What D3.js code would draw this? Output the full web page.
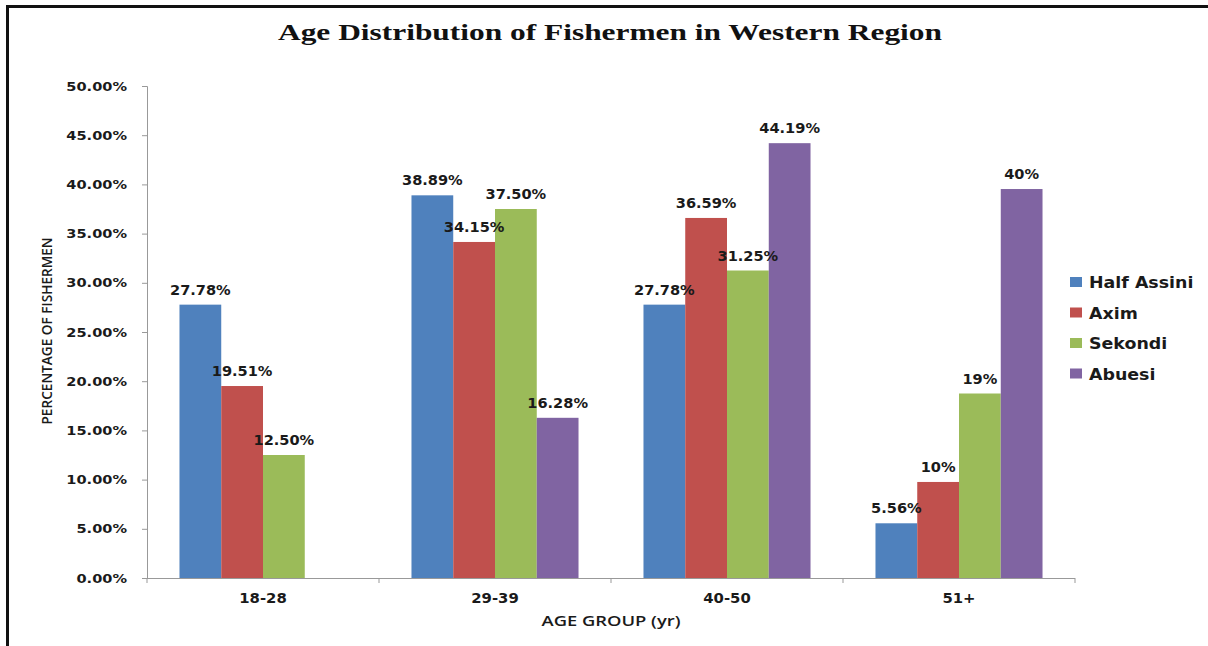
<!DOCTYPE html>
<html><head><meta charset="utf-8">
<script src="https://cdn.jsdelivr.net/npm/d3@7"></script>
<style>body{margin:0;background:#fff}svg{display:block}</style>
</head><body><svg id="c" width="1208" height="646"></svg>
<script>
const categories = ["18-28", "29-39", "40-50", "51+"];
const seriesNames = ["Half Assini", "Axim", "Sekondi", "Abuesi"];
const halfAssini = [27.78, 38.89, 27.78, 5.56];
const axim = [19.51, 34.15, 36.59, 9.76];
const sekondi = [12.50, 37.50, 31.25, 18.75];
const abuesi = [null, 16.28, 44.19, 39.53];
const labelsHalfAssini = ["27.78%", "38.89%", "27.78%", "5.56%"];
const labelsAxim = ["19.51%", "34.15%", "36.59%", "10%"];
const labelsSekondi = ["12.50%", "37.50%", "31.25%", "19%"];
const labelsAbuesi = [null, "16.28%", "44.19%", "40%"];
const yTicks = [0, 5, 10, 15, 20, 25, 30, 35, 40, 45, 50];
const colors = ["#4F81BD", "#C0504D", "#9BBB59", "#8064A2"];

const series = [halfAssini, axim, sekondi, abuesi];
const labels = [labelsHalfAssini, labelsAxim, labelsSekondi, labelsAbuesi];

const svg = d3.select("#c");
const font = "'DejaVu Sans', sans-serif";
const txt = "#1a1a1a";

// frame
svg.append("line").attr("x1", 7.5).attr("x2", 1208).attr("y1", 6.5).attr("y2", 6.5).attr("stroke", "#111").attr("stroke-width", 3);
svg.append("line").attr("x1", 7.5).attr("x2", 7.5).attr("y1", 5).attr("y2", 646).attr("stroke", "#111").attr("stroke-width", 3);

const L = 147, R = 1075, T = 86, B = 578;
const x0 = d3.scaleBand().domain(categories).range([L, R]).paddingInner(0.28).paddingOuter(0.14);
const x1 = d3.scaleBand().domain(seriesNames).range([0, x0.bandwidth()]);
const y = d3.scaleLinear().domain([0, 50]).range([B, T]);

function stretch(sel, k) {
  sel.each(function () {
    const t = d3.select(this);
    const w = this.getComputedTextLength();
    t.attr("textLength", w * k).attr("lengthAdjust", "spacingAndGlyphs");
  });
}

// bars
series.forEach((vals, si) => {
  const g = svg.append("g");
  categories.forEach((c, ci) => {
    const v = vals[ci];
    if (v == null) return;
    g.append("rect")
      .attr("x", x0(c) + x1(seriesNames[si]))
      .attr("y", y(v))
      .attr("width", x1.bandwidth())
      .attr("height", y(0) - y(v))
      .attr("fill", colors[si]);
  });
});

// y axis
const ya = svg.append("g").attr("transform", `translate(${L},0)`)
  .call(d3.axisLeft(y).tickValues(yTicks).tickSize(5).tickPadding(15).tickFormat(d => d.toFixed(2) + "%"));
ya.select(".domain").attr("stroke", "#999");
ya.selectAll(".tick line").attr("stroke", "#999");
ya.selectAll(".tick text").attr("font-family", font).attr("font-weight", "bold").attr("font-size", 13).attr("fill", txt);
stretch(ya.selectAll(".tick text"), 1.12);

// x axis
const xa = svg.append("g").attr("transform", `translate(0,${B})`);
xa.append("line").attr("x1", L).attr("x2", R).attr("y1", 0.5).attr("y2", 0.5).attr("stroke", "#999");
const bounds = categories.map(c => x0(c) - x0.step() * x0.paddingInner() / 2);
bounds.push(R);
bounds[0] = L;
bounds.forEach(b => xa.append("line").attr("x1", b).attr("x2", b).attr("y1", 0).attr("y2", 5).attr("stroke", "#999"));
const catT = xa.selectAll("text.cat").data(categories).join("text").attr("class", "cat")
  .attr("x", d => x0(d) + x0.bandwidth() / 2).attr("y", 25)
  .attr("text-anchor", "middle").attr("font-family", font).attr("font-weight", "bold").attr("font-size", 13.5).attr("fill", txt)
  .text(d => d);
stretch(catT, 1.1);

// data labels
series.forEach((vals, si) => {
  categories.forEach((c, ci) => {
    const v = vals[ci];
    if (v == null) return;
    const t = svg.append("text")
      .attr("x", x0(c) + x1(seriesNames[si]) + x1.bandwidth() / 2)
      .attr("y", y(v) - 10)
      .attr("text-anchor", "middle").attr("font-family", font).attr("font-weight", "bold").attr("font-size", 13.5).attr("fill", txt)
      .text(labels[si][ci]);
    stretch(t, 1.08);
  });
});

// title
const title = svg.append("text").attr("x", 610).attr("y", 40).attr("text-anchor", "middle")
  .attr("font-family", "'Liberation Serif', serif").attr("font-weight", "bold").attr("font-size", 23).attr("fill", "#111")
  .text("Age Distribution of Fishermen in Western Region");
title.attr("textLength", 664).attr("lengthAdjust", "spacingAndGlyphs");

// axis titles
svg.append("text").attr("transform", "translate(52,331) rotate(-90)").attr("text-anchor", "middle")
  .attr("font-family", "'Open Sans', sans-serif").attr("font-weight", 600).attr("font-size", 14).attr("fill", txt)
  .attr("textLength", 187).attr("lengthAdjust", "spacingAndGlyphs")
  .text("PERCENTAGE OF FISHERMEN");
svg.append("text").attr("x", 611).attr("y", 626).attr("text-anchor", "middle")
  .attr("font-family", "'Open Sans', sans-serif").attr("font-weight", 600).attr("font-size", 14).attr("fill", txt)
  .attr("textLength", 139).attr("lengthAdjust", "spacingAndGlyphs")
  .text("AGE GROUP (yr)");

// legend
const lg = svg.append("g");
seriesNames.forEach((n, i) => {
  const yy = 282 + i * 30.5;
  lg.append("rect").attr("x", 1070).attr("y", yy - 5).attr("width", 12).attr("height", 10).attr("fill", colors[i]);
  const t = lg.append("text").attr("x", 1089).attr("y", yy + 6).attr("font-family", font).attr("font-weight", "bold")
    .attr("font-size", 15).attr("fill", txt).text(n);
  stretch(t, 1.16);
});
</script></body></html>
